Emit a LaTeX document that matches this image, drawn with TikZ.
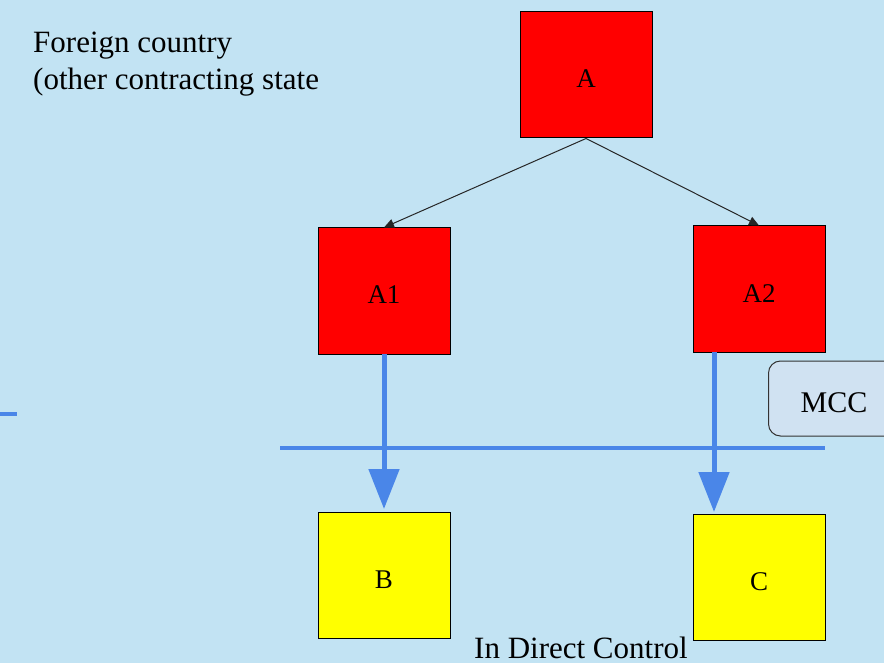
\documentclass[tikz,border=0pt]{standalone}
\usepackage{fontspec}
\setmainfont{Liberation Serif}
\usetikzlibrary{arrows.meta}
\definecolor{bgblue}{HTML}{C2E3F3}
\definecolor{boxred}{HTML}{FF0000}
\definecolor{boxyellow}{HTML}{FFFF00}
\definecolor{lineblue}{HTML}{4A86E8}
\definecolor{mccfill}{HTML}{D0E2F2}
\tikzset{
  entity/.style={draw=black, line width=1pt, minimum width=132pt, minimum height=126pt,
    inner sep=0pt, text height=26pt, text depth=0pt, font=\fontsize{27}{30}\selectfont},
  parent/.style={entity, fill=boxred},
  sub/.style={entity, fill=boxyellow},
  own/.style={draw=black!85, line width=1pt, -{Triangle[length=10pt,width=9pt]}},
  flow/.style={draw=lineblue, line width=5pt, -{Triangle[length=40pt,width=30pt]}},
  caption/.style={font=\fontsize{31}{35}\selectfont, inner sep=0pt},
}
\begin{document}
\begin{tikzpicture}[x=1pt, y=-1pt]
  \useasboundingbox (0,0) rectangle (884,663);
  \fill[bgblue] (0,0) rectangle (884,663);

  % companies
  \node[parent] (A)  at (586,75)  {A};
  \node[parent] (A1) at (384,291) {A1};
  \node[parent] (A2) at (759,289) {A2};
  \node[sub]    (B)  at (384,575) {B};
  \node[sub]    (C)  at (759,577) {C};

  % ownership links
  \draw[own] (A.south) -- (A1.north);
  \draw[own] (A.south) -- (A2.north);

  % border line
  \coordinate (bl) at (280,448);
  \coordinate (br) at (825,448);
  \draw[lineblue, line width=4pt] (bl) -- (br);
  \coordinate (ml) at (0,414);
  \coordinate (mr) at (17,414);
  \draw[lineblue, line width=4pt] (ml) -- (mr);

  % flows across the border
  \coordinate (a1b) at (384,354);
  \coordinate (bt) at (384,509);
  \draw[flow] (a1b) -- (bt);
  \coordinate (a2b) at (714,352);
  \coordinate (ct) at (714,512);
  \draw[flow] (a2b) -- (ct);

  % MCC label
  \node[draw=black!80, line width=1pt, fill=mccfill, rounded corners=12pt,
        minimum width=140pt, minimum height=75pt, anchor=west] (mcc) at (768,398.5) {};
  \node[font=\fontsize{30}{34}\selectfont, inner sep=0pt] (mcctext) at (834,403) {MCC};

  % captions
  \node[caption, anchor=base west] (fc1) at (33,53) {Foreign country};
  \node[caption, anchor=base west] (fc2) at (33,90) {(other contracting state};
  \node[caption, anchor=base west] (idc) at (474,658) {In Direct Control};
\end{tikzpicture}
\end{document}
